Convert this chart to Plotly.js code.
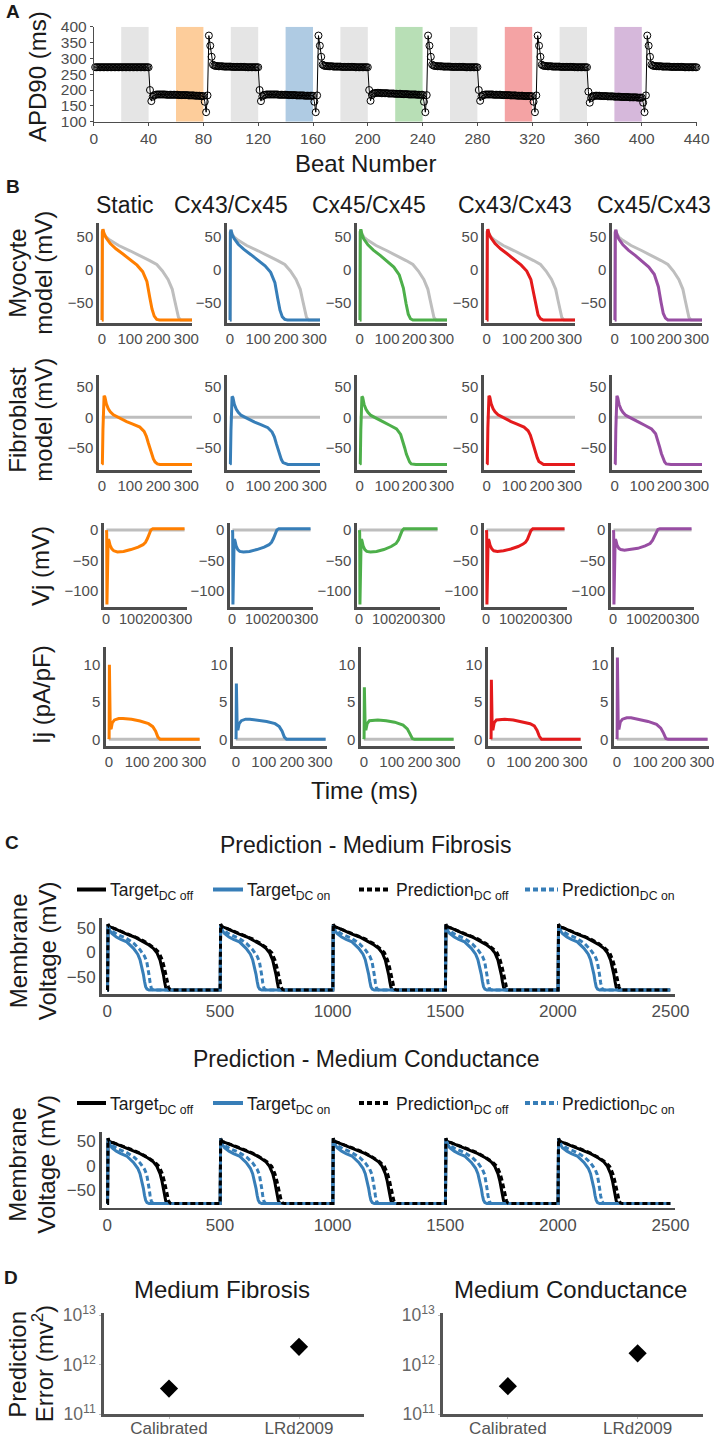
<!DOCTYPE html>
<html><head><meta charset="utf-8">
<script src="https://cdn.plot.ly/plotly-3.0.1.min.js"></script>
<style>html,body{margin:0;padding:0;background:#fff}#chart{width:714px;height:1438px}</style>
</head><body><div id="chart"></div>
<script>
// ---------------- DATA ----------------
// Panel A: APD90 (ms) for beats 1..440
const apd90 = [
272,272,272,272,272,272,272,272,272,272,
272,272,272,272,272,272,272,272,272,272,
272,272,272,272,272,272,272,272,272,272,
272,272,272,272,272,272,272,272,272,272,
200,165,179,183,185,186,186,186,186,186,
186,186,185,185,185,185,185,185,185,185,
185,184,184,184,184,184,184,184,183,183,
183,183,183,182,182,182,182,181,181,181,
163,130,183,372,340,305,280,277,276,276,
275,275,275,275,274,274,274,274,274,274,
273,273,273,273,273,273,273,273,273,273,
272,272,272,272,272,272,272,272,272,272,
200,165,180,184,185,186,186,186,186,186,
186,186,186,186,185,185,185,185,185,185,
185,184,184,184,184,184,184,183,183,183,
183,183,183,182,182,182,182,182,182,182,
163,130,183,372,340,305,280,277,276,276,
275,275,275,275,274,274,274,274,274,274,
273,273,273,273,273,273,273,273,273,273,
272,272,272,272,272,272,272,272,272,272,
200,166,184,189,190,191,191,191,191,190,
190,190,190,190,189,189,189,189,189,188,
188,188,188,188,187,187,187,187,187,186,
186,186,186,186,186,185,185,185,185,185,
163,130,184,372,340,305,280,277,276,276,
275,275,275,275,274,274,274,274,274,274,
273,273,273,273,273,273,273,273,273,273,
272,272,272,272,272,272,272,272,272,272,
200,166,180,184,185,186,186,186,186,186,
186,185,185,185,185,185,185,184,184,184,
184,184,184,183,183,183,183,183,182,182,
182,182,182,181,181,181,181,181,181,180,
163,130,183,372,340,305,280,277,276,276,
275,275,275,275,274,274,274,274,274,274,
273,273,273,273,273,273,273,273,273,273,
272,272,272,272,272,272,272,272,272,272,
195,160,175,180,181,182,182,182,182,181,
181,181,181,181,180,180,180,180,180,179,
179,179,179,179,178,178,178,178,178,178,
177,177,177,177,177,177,176,176,176,176,
160,130,183,372,340,305,280,277,276,276,
275,275,275,275,274,274,274,274,274,274,
273,273,273,273,273,273,273,273,273,273,
272,272,272,272,272,272,272,272,272,272
];
const bandStart = [20,60,100,140,180,220,260,300,340,380];
const bandEnd   = [40,80,120,160,200,240,280,320,360,400];
const bandColors = ['#e5e5e5','#fdcd9b','#e5e5e5','#afcbe3','#e5e5e5','#b8dfb6','#e5e5e5','#f4a3a4','#e5e5e5','#d6b8db'];
const aXTicks = [0,40,80,120,160,200,240,280,320,360,400,440];
const aYTicks = [100,150,200,250,300,350,400];

// Panel B
const colTitles = ['Static','Cx43/Cx45','Cx45/Cx45','Cx43/Cx43','Cx45/Cx43'];
const colColors = ['#ff7f00','#377eb8','#4daf4a','#e41a1c','#984ea3'];
const bXTicks = [0,100,200,300];
const bXLabels = ['0','100','200','300'];
// Myocyte model (mV)
const myoCtrlT = [0,1,2,4,8,15,30,60,100,140,170,195,215,235,250,258,266,272,280,295,320];
const myoCtrlV = [-77,-77,58,61,55,50,45,37,29,21,14,8,-2,-15,-30,-46,-64,-73,-77,-77,-77];
const myoT = [0,1,2,4,8,15,30,50,75,100,125,145,160,170,178,186,195,205,220,260,320];
const myoStatic  = [-77,-77,58,62,55,49,40,32,24,16,7,-3,-18,-42,-60,-71,-76,-77,-77,-77,-77];
const myoCx43Cx45 = [-77,-77,57,61,54,48,39,31,23,15,6,-4,-20,-44,-62,-72,-76,-77,-77,-77,-77];
const myoCx45Cx45 = [-77,-77,58,62,54,47,38,30,22,13,4,-8,-28,-52,-68,-75,-77,-77,-77,-77,-77];
const myoCx43Cx43 = [-77,-77,58,62,55,49,40,32,24,16,7,-2,-15,-36,-55,-69,-75,-77,-77,-77,-77];
const myoCx45Cx43 = [-77,-77,57,61,54,47,38,30,22,13,4,-7,-26,-50,-67,-74,-77,-77,-77,-77,-77];
// Fibroblast model (mV)
const fibCtrlT = [0,320];
const fibCtrlV = [0,0];
const fibT = [0,2,4,6,8,11,16,23,30,41,60,88,110,135,150,158,165,171,177,183,189,197,206,230,320];
const fibStatic   = [-77,-76,-20,25,35,33,22,14,9,4,-1,-7,-11,-16,-23,-31,-42,-52,-61,-68,-73,-76,-77,-77,-77];
const fibCx43Cx45 = [-77,-76,-22,24,34,32,21,13,8,3,-2,-8,-12,-17,-24,-32,-43,-53,-62,-69,-74,-76,-77,-77,-77];
const fibCx45Cx45 = [-77,-76,-20,25,34,32,21,13,8,3,-2,-8,-13,-19,-28,-38,-50,-60,-68,-73,-76,-77,-77,-77,-77];
const fibCx43Cx43 = [-77,-76,-18,26,35,33,22,14,9,4,-1,-7,-11,-16,-22,-29,-39,-49,-58,-66,-72,-75,-77,-77,-77];
const fibCx45Cx43 = [-77,-76,-20,25,35,32,21,13,8,3,-2,-8,-13,-19,-27,-37,-49,-59,-67,-73,-76,-77,-77,-77,-77];
// Vj (mV)
const vjCtrlT = [0,320];
const vjCtrlV = [0,0];
const vjT = [0,1,2,4,7,10,15,22,30,45,70,100,130,150,160,168,175,182,190,320];
const vjStatic   = [0,-5,-122,-60,-15,-17,-25,-31,-34,-36,-35,-32,-28,-24,-20,-14,-6,0,2,2];
const vjCx43Cx45 = [0,-5,-122,-60,-15,-17,-26,-32,-35,-36,-35,-32,-28,-24,-20,-14,-6,0,2,2];
const vjCx45Cx45 = [0,-5,-122,-60,-15,-17,-26,-32,-35,-36,-35,-32,-27,-22,-16,-8,-1,2,2,2];
const vjCx43Cx43 = [0,-5,-122,-60,-15,-17,-25,-31,-34,-35,-34,-31,-27,-23,-20,-15,-7,-1,2,2];
const vjCx45Cx43 = [0,-5,-122,-60,-15,-17,-25,-30,-32,-33,-32,-30,-26,-22,-17,-10,-3,1,2,2];
// Ij (pA/pF)
const ijCtrlT = [0,320];
const ijCtrlV = [0,0];
const ijT = [0,1,2,3.5,5,8,12,20,35,50,80,110,140,155,165,173,181,320];
const ijStatic   = [0,0.2,10,6,1.5,1.4,2.2,2.6,2.8,2.8,2.7,2.45,2.1,1.7,1.1,0.3,0,0];
const ijCx43Cx45 = [0,0.2,7.5,4.5,1.4,1.4,2.1,2.5,2.7,2.7,2.6,2.4,2.1,1.7,1.1,0.3,0,0];
const ijCx45Cx45 = [0,0.2,7,4.2,1.4,1.4,2.1,2.5,2.6,2.6,2.5,2.3,1.9,1.4,0.7,0.1,0,0];
const ijCx43Cx43 = [0,0.2,8,4.8,1.4,1.4,2.2,2.6,2.7,2.7,2.6,2.4,2.1,1.8,1.2,0.4,0,0];
const ijCx45Cx43 = [0,0.2,11,6.5,1.5,1.5,2.3,2.7,2.9,2.9,2.7,2.4,2.0,1.5,0.8,0.1,0,0];

// Panel C: one recorded beat shape per series, repeated at each stimulus onset
const beatOnsets = [0,500,1000,1500,2000];
const tgtOffT  = [0,1,3,8,27,60,86,120,145,180,204,220,234,242,249,254,259,265,272,499];
const tgtOnT   = [0,1,3,8,20,40,60,86,116,135,145,153,160,165,170,176,185,499];
const predOnT  = [0,1,3,8,20,45,86,120,145,165,175,181,185,190,195,202,210,499];
const predOffT = [0,1,3,8,27,60,86,120,145,180,210,230,244,253,260,266,272,278,286,499];
const fibTgtOff  = [-77,-77,57,52,49,42,37,31,25,16,8,-1,-16,-30,-46,-60,-71,-76,-77,-77];
const fibTgtOn   = [-77,-77,55,46,38,31,26,21,8,-4,-15,-29,-45,-59,-70,-75,-77,-77];
const fibPredOn  = [-77,-77,54,48,43,36,28,17,5,-8,-19,-32,-46,-62,-73,-76,-77,-77];
const fibPredOff = [-77,-77,57,52,49,43,38,32,27,18,8,-1,-16,-31,-46,-60,-71,-76,-77,-77];
const conTgtOff  = [-77,-77,56,50,47,41,36,30,25,16,8,-1,-16,-30,-46,-60,-71,-76,-77,-77];
const conTgtOn   = [-77,-77,55,46,37,30,25,20,7,-5,-16,-30,-46,-60,-70,-75,-77,-77];
const conPredOn  = [-77,-77,54,47,42,35,27,17,6,-7,-18,-31,-45,-61,-72,-76,-77,-77];
const conPredOff = [-77,-77,56,50,47,42,37,31,26,17,8,-1,-16,-31,-46,-60,-71,-76,-77,-77];
const cXTicks = [0,500,1000,1500,2000,2500];

// Panel D
const dCategories = ['Calibrated','LRd2009'];
const dFibrosis = [3.3e11, 2.3e12];
const dConductance = [3.7e11, 1.7e12];

// ---------------- LAYOUT ----------------
const W = 714, H = 1438;
const FONT = '"Liberation Sans", Arial, Helvetica, sans-serif';
const TXT = '#1a1a1a', TICK = '#4d4d4d', AXL = '#4d4d4d';
const BLUE = '#377eb8';
const xd = (l, r) => [l / W, r / W];
const yd = (t, b) => [1 - b / H, 1 - t / H];

const layout = {
  width: W, height: H, margin: {l:0, r:0, t:0, b:0},
  paper_bgcolor: '#fff', plot_bgcolor: 'rgba(0,0,0,0)',
  showlegend: false, hovermode: false, font: {family: FONT},
  annotations: [], shapes: []
};
const traces = [];
const baseAx = {showgrid:false, zeroline:false, showline:true, linecolor:AXL, linewidth:2.7,
  ticks:'', fixedrange:true, tickangle:0, ticklabeloverflow:'allow',
  tickfont:{family:FONT, size:15, color:TICK}};
let nSub = 0;
function addSub(xc, yc) {
  nSub++;
  const s = nSub === 1 ? '' : String(nSub);
  layout['xaxis' + s] = Object.assign({}, baseAx, {anchor: 'y' + s}, xc);
  layout['yaxis' + s] = Object.assign({}, baseAx, {anchor: 'x' + s}, yc);
  return {xaxis: 'x' + s, yaxis: 'y' + s};
}
function T(text, x, y, size, opts) {
  layout.annotations.push(Object.assign({text: text, x: x / W, y: 1 - y / H, xref:'paper', yref:'paper',
    showarrow:false, xanchor:'center', yanchor:'middle', font:{family:FONT, size:size, color:TXT}}, opts || {}));
}

// ---- Panel A ----
const sA = addSub(
  {domain: xd(93.8, 696.6), range:[0,440], tickvals:aXTicks, linewidth:1, ticks:'outside', ticklen:3, tickcolor:AXL, tickfont:{family:FONT,size:15.5,color:TICK}},
  {domain: yd(26.7, 121.7), range:[100,400], tickvals:aYTicks, linewidth:1, ticks:'outside', ticklen:3, tickcolor:AXL, tickfont:{family:FONT,size:15.5,color:TICK}}
);
traces.push(Object.assign({type:'bar', x: bandStart.map((s,i)=>(s+bandEnd[i])/2), width: bandStart.map((s,i)=>bandEnd[i]-s),
  y: bandStart.map(()=>300), base: 100, marker:{color: bandColors, line:{width:0}}}, sA));
traces.push(Object.assign({type:'scatter', mode:'lines+markers', x: apd90.map((_,i)=>i+1), y: apd90,
  line:{color:'#000', width:1}, marker:{symbol:'circle-open', size:7, color:'#000', line:{width:1}}, cliponaxis:false}, sA));
T('<b>A</b>', 13, 12, 19);
T('APD90 (ms)', 38, 77, 24, {textangle:-90});
T('Beat Number', 366, 163, 24);

// ---- Panel B ----
const rowsB = [
  {top:223, bot:323.3, yr:[-82,71.5], yt:[-50,0,50], xr:[-10,320], xf:15,
   cols:[[99,192],[227,320],[357,447],[484,575],[612,702]],
   cT:myoCtrlT, cV:myoCtrlV, t:myoT, vals:[myoStatic,myoCx43Cx45,myoCx45Cx45,myoCx43Cx43,myoCx45Cx43]},
  {top:375, bot:470, yr:[-86,69], yt:[-50,0,50], xr:[-10,320], xf:15,
   cols:[[99,192],[227,320],[357,447],[484,575],[612,702]],
   cT:fibCtrlT, cV:fibCtrlV, t:fibT, vals:[fibStatic,fibCx43Cx45,fibCx45Cx45,fibCx43Cx43,fibCx45Cx43]},
  {top:523, bot:607, yr:[-126,11.5], yt:[-100,-50,0], xr:[-10,330], xf:14.5, labelY:619,
   cols:[[104,187],[230,313],[357,440],[484,567],[611,694]],
   cT:vjCtrlT, cV:vjCtrlV, t:vjT, vals:[vjStatic,vjCx43Cx45,vjCx45Cx45,vjCx43Cx43,vjCx45Cx43]},
  {top:647, bot:746, yr:[-0.9,12.4], yt:[0,5,10], xr:[-10,325], xf:15,
   cols:[[106,201],[233,327],[361,455],[488,582],[614,709]],
   cT:ijCtrlT, cV:ijCtrlV, t:ijT, vals:[ijStatic,ijCx43Cx45,ijCx45Cx45,ijCx43Cx43,ijCx45Cx43]}
];
rowsB.forEach(row => {
  row.cols.forEach((c, ci) => {
    const xc = {domain: xd(c[0], c[1]), range: row.xr, tickvals: bXTicks, ticktext: bXLabels,
                tickfont:{family:FONT,size:row.xf,color:TICK}};
    if (row.labelY) xc.showticklabels = false;
    const s = addSub(xc, {domain: yd(row.top, row.bot), range: row.yr, tickvals: row.yt});
    traces.push(Object.assign({type:'scatter', mode:'lines', x: row.cT, y: row.cV, line:{color:'#bebebe', width:3}}, s));
    traces.push(Object.assign({type:'scatter', mode:'lines', x: row.t, y: row.vals[ci], line:{color: colColors[ci], width:3}}, s));
    if (row.labelY) {
      // tick labels positioned by this subplot's own linear x scale (domain + range)
      const scale = v => (c[0] + (v - row.xr[0]) / (row.xr[1] - row.xr[0]) * (c[1] - c[0])) / W;
      bXTicks.forEach((v, k) => layout.annotations.push({text: bXLabels[k], x: scale(v), xref:'paper',
        y: 1 - row.labelY / H, yref:'paper', showarrow:false, xanchor:'center', yanchor:'middle',
        font:{family:FONT, size:row.xf, color:TICK}}));
    }
  });
});
T('<b>B</b>', 13, 187, 19);
[125, 231, 369, 515, 654].forEach((x, i) => T(colTitles[i], x, 205, 23));
T('Myocyte', 16.7, 273, 24, {textangle:-90});
T('model (mV)', 42.7, 273, 24, {textangle:-90});
T('Fibroblast', 16.7, 420, 24, {textangle:-90});
T('model (mV)', 42.7, 420, 24, {textangle:-90});
T('Vj (mV)', 40, 566, 24, {textangle:-90});
T('Ij (pA/pF)', 41, 695, 24, {textangle:-90});
T('Time (ms)', 364, 790, 24);

// ---- Panel C ----
function beatTrain(shapeT, shapeV) {
  const x = [], y = [];
  beatOnsets.forEach(o => shapeT.forEach((t, i) => { x.push(o + t); y.push(shapeV[i]); }));
  return {x: x, y: y};
}
const cPanels = [
  {top:918.3, bot:994, title:'Prediction - Medium Fibrosis', ty:845, legY:888.5,
   s:[fibTgtOff, fibTgtOn, fibPredOn, fibPredOff]},
  {top:1132, bot:1207.5, title:'Prediction - Medium Conductance', ty:1059, legY:1102,
   s:[conTgtOff, conTgtOn, conPredOn, conPredOff]}
];
cPanels.forEach(p => {
  const s = addSub({domain: xd(101.7, 675), range:[-25,2520], tickvals:cXTicks, tickfont:{family:FONT,size:17,color:TICK}},
                   {domain: yd(p.top, p.bot), range:[-85,69], tickvals:[-50,0,50], tickfont:{family:FONT,size:17,color:TICK}});
  const a = beatTrain(tgtOffT, p.s[0]), b = beatTrain(tgtOnT, p.s[1]), c = beatTrain(predOnT, p.s[2]), d = beatTrain(predOffT, p.s[3]);
  traces.push(Object.assign({type:'scatter', mode:'lines', x:a.x, y:a.y, line:{color:'#000', width:3}}, s));
  traces.push(Object.assign({type:'scatter', mode:'lines', x:b.x, y:b.y, line:{color:BLUE, width:3}}, s));
  traces.push(Object.assign({type:'scatter', mode:'lines', x:c.x, y:c.y, line:{color:BLUE, width:3, dash:'5px,3px'}}, s));
  traces.push(Object.assign({type:'scatter', mode:'lines', x:d.x, y:d.y, line:{color:'#000', width:3, dash:'5px,3px'}}, s));
  T(p.title, 366, p.ty, 23);
  const mid = (p.top + p.bot) / 2;
  T('Membrane', 18, mid - 5, 24, {textangle:-90});
  T('Voltage (mV)', 47, mid - 5, 24, {textangle:-90});
  const leg = [
    {x0:77, x1:106, c:'#000', dash:'solid', tx:108, lab:'Target<sub>DC off</sub>'},
    {x0:213, x1:243, c:BLUE, dash:'solid', tx:245, lab:'Target<sub>DC on</sub>'},
    {x0:359, x1:391, c:'#000', dash:'5px,3px', tx:394, lab:'Prediction<sub>DC off</sub>'},
    {x0:525, x1:558, c:BLUE, dash:'5px,3px', tx:560, lab:'Prediction<sub>DC on</sub>'}
  ];
  leg.forEach(e => {
    layout.shapes.push({type:'line', xref:'paper', yref:'paper', x0:e.x0/W, x1:e.x1/W, y0:1-(p.legY+1)/H, y1:1-(p.legY+1)/H,
      line:{color:e.c, width:4, dash:e.dash}});
    T(e.lab, e.tx, p.legY + 3, 17.5, {xanchor:'left'});
  });
});
T('<b>C</b>', 12, 842, 19);

// ---- Panel D ----
const dPanels = [
  {l:104, r:364, title:'Medium Fibrosis', tx:222, vals:dFibrosis},
  {l:443, r:702.5, title:'Medium Conductance', tx:570, vals:dConductance}
];
dPanels.forEach(p => {
  const s = addSub({domain: xd(p.l, p.r), type:'category', range:[-0.5,1.5], linecolor:'#555',
                    ticks:'outside', ticklen:2, tickcolor:'#bbb', ticklabelstandoff:-5,
                    tickfont:{family:FONT,size:17,color:'#555'}},
                   {domain: yd(1312.7, 1414.3), type:'log', range:[11,13.05], linecolor:'#555',
                    tickvals:[1e11,1e12,1e13], ticktext:['10<sup>11</sup>','10<sup>12</sup>','10<sup>13</sup>'],
                    ticks:'outside', ticklen:2, tickcolor:'#bbb', tickfont:{family:FONT,size:17.5,color:'#666'}});
  traces.push(Object.assign({type:'scatter', mode:'markers', x: dCategories, y: p.vals,
    marker:{symbol:'diamond', size:14, color:'#000'}, cliponaxis:false}, s));
  T(p.title, p.tx, 1289, 24);
});
T('<b>D</b>', 11, 1277, 19);
T('Prediction', 16.7, 1364, 24, {textangle:-90});
T('Error (mv<sup>2</sup>)', 43.3, 1364, 24, {textangle:-90});

Plotly.newPlot('chart', traces, layout, {staticPlot:true, displayModeBar:false});
</script></body></html>
